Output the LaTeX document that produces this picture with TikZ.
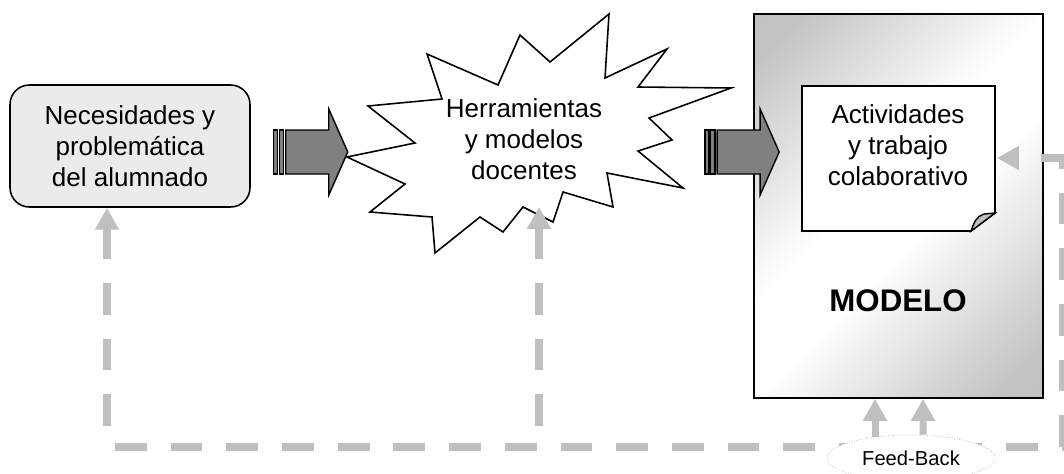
\documentclass[tikz,border=0pt]{standalone}
\usepackage{fontspec}
\setmainfont{Liberation Sans}
\usetikzlibrary{calc,shapes.geometric,arrows.meta}
\pgfdeclarehorizontalshading{modeloshade}{100bp}{color(0bp)=(black!27); color(20bp)=(black!23);
  color(45bp)=(white); color(55bp)=(white); color(80bp)=(black!23); color(100bp)=(black!27)}

\begin{document}
\begin{tikzpicture}[x=0.02cm, y=-0.02cm,
  texto/.style={align=center, font=\fontsize{14.8}{17.5}\selectfont},
  necbox/.style={draw=black, line width=0.9pt, rounded corners=11pt, fill=black!8,
    minimum width=4.8cm, minimum height=2.44cm},
  modelbox/.style={draw=black, line width=1pt, shading=modeloshade, shading angle=-45,
    minimum width=5.78cm, minimum height=7.68cm},
  fb/.style={draw=black!25, line width=4pt, dash pattern=on 18.1pt off 13.6pt,
    -{Triangle[width=13pt,length=12.5pt]}},
  fbcorto/.style={draw=black!25, line width=4pt, -{Triangle[width=13pt,length=12.5pt]}},
  bloque/.pic={
    \draw[line width=0.8pt, fill=black!50] (0,-22) rectangle (4,22);
    \draw[line width=0.8pt, fill=black!50] (5.5,-22) rectangle (10,22);
    \draw[line width=0.8pt, fill=black!50] (12,-22) -- (55,-22) -- (55,-43) -- (74,0)
      -- (55,43) -- (55,22) -- (12,22) -- cycle;
  }]
  \clip (0,0) rectangle (1064,473);

  \node[necbox, texto] (necesidades) at (130,146) {Necesidades y\\problemática\\del alumnado};

  \draw[line width=0.9pt, fill=white] (347,157) -- (415,143) -- (368,106) -- (442,99)
    -- (427,54) -- (498,85) -- (520,35) -- (550,62) -- (609,14) -- (605,78) -- (667,49)
    -- (638,87) -- (731,88) -- (649,118) -- (672,140) -- (638,151) -- (683,188)
    -- (607,173) -- (613,207) -- (563,192) -- (553,222) -- (523,207) -- (503,232)
    -- (480,217) -- (435,253) -- (432,217) -- (370,212) -- (405,184) -- cycle;
  \node[texto] (herramientas) at (524,139) {Herramientas\\y modelos\\docentes};
  \coordinate (estrella-sur) at (539,207);

  \node[modelbox] (modelo) at (898.5,206) {};
  \draw[line width=0.9pt, fill=white] (802,86) -- (995,86) -- (995,213) -- (971,231)
    -- (802,231) -- cycle;
  \draw[line width=0.8pt, fill=black!25] (995,213) -- (971,231)
    .. controls (974,222) and (977,216) .. (984,214) -- cycle;
  \node[texto] (actividades) at (898,145) {Actividades\\y trabajo\\colaborativo};
  \coordinate (nota-este) at (997,158);
  \node[font=\fontsize{17.8}{20}\selectfont\bfseries] (modelo-txt) at (898,301) {MODELO};

  \pic at ($(necesidades.east)+(23,6)$) {bloque};
  \pic at ($(modelo.west)+(-48,-54)$) {bloque};

  \coordinate (fb-izq) at (107,426);
  \coordinate (fb-centro) at (539,426);
  \draw[fb] (fb-izq) -- ($(necesidades.south)+(-23,0)$);
  \draw[fb] (fb-centro) -- (estrella-sur);
  \draw[fb] (115,447) -- (1062,447) -- (1062,158) -- (nota-este);

  \node[ellipse, draw=black!30, densely dotted, fill=white, inner sep=0pt,
    minimum width=3.36cm, minimum height=0.92cm, font=\fontsize{11.5}{13}\selectfont]
    (feedback) at (911,458) {Feed-Back};
  \draw[fbcorto] ($(feedback.north)+(-36,2)$) -- ($(modelo.south)+(-23.5,0)$);
  \draw[fbcorto] ($(feedback.north)+(12,0)$) -- ($(modelo.south)+(24.5,0)$);
\end{tikzpicture}
\end{document}
